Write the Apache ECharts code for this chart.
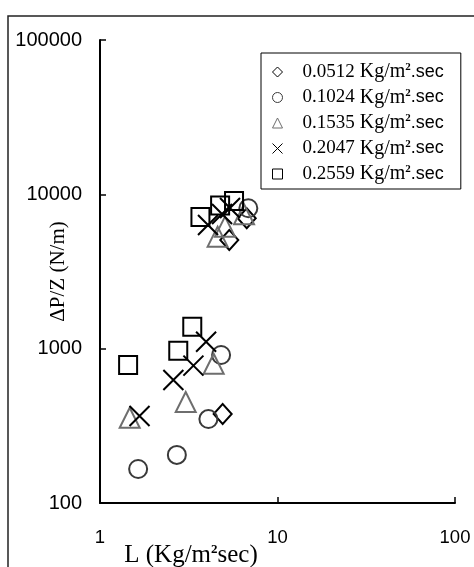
<!DOCTYPE html>
<html>
<head>
<meta charset="utf-8">
<script src="https://cdn.jsdelivr.net/npm/echarts@6/dist/echarts.min.js"></script>
<style>
  html, body { margin: 0; padding: 0; background: #fff; }
  #chart { width: 474px; height: 567px; }
</style>
</head>
<body>
<div id="chart"></div>
<script>
// Pressure drop per unit height against liquid mass velocity, one series per gas rate
const gasRates = ['0.0512', '0.1024', '0.1535', '0.2047', '0.2559'];

// [L (kg/m²·s), ΔP/Z (N/m)]
const points0512 = [[4.91, 377], [5.35, 5064], [6.71, 7000]];
const points1024 = [[1.64, 166], [2.71, 205], [4.08, 350], [4.81, 910], [6.85, 8128]];
const points1535 = [[1.47, 357], [3.04, 451], [4.37, 799], [4.60, 5319], [5.06, 6176], [6.48, 7430]];
const points2047 = [[1.67, 366], [2.59, 627], [3.36, 776], [3.96, 1110], [4.06, 6334], [4.87, 7464], [5.40, 8165]];
const points2559 = [[1.44, 784], [2.76, 970], [3.31, 1389], [3.68, 7138], [4.75, 8472], [5.69, 9063]];

const xTicks = [1, 10, 100];
const yTicks = [100, 1000, 10000, 100000];

const seriesData = [points0512, points1024, points1535, points2047, points2559];

const crossPath = 'path://M0,0L10,10M0,10L10,0';
const markerStyles = [
  { symbol: 'diamond', size: [18, 20], color: '#000000' },
  { symbol: 'circle', size: 18, color: '#3a3a3a' },
  { symbol: 'triangle', size: 20, color: '#6e6e6e' },
  { symbol: crossPath, size: 20, color: '#000000' },
  { symbol: 'rect', size: 18, color: '#000000' }
];

const serif = '"Times New Roman", "Liberation Serif", "DejaVu Serif", serif';
const sans = 'Arial, "Liberation Sans", sans-serif';

const chart = echarts.init(document.getElementById('chart'), null, { renderer: 'canvas' });

chart.setOption({
  animation: false,
  backgroundColor: '#ffffff',
  grid: { left: 100, top: 40, right: 19, bottom: 64, containLabel: false, outerBoundsMode: 'none' },
  graphic: [{
    type: 'rect',
    silent: true,
    shape: { x: 8, y: 16, width: 520, height: 620 },
    style: { fill: 'none', stroke: '#222', lineWidth: 1.5 }
  }],
  legend: {
    orient: 'vertical',
    left: 261,
    top: 53,
    padding: [9, 4, 5, 11],
    itemGap: 5.5,
    itemWidth: 10,
    itemHeight: 10,
    align: 'left',
    selectedMode: false,
    backgroundColor: '#fff',
    borderColor: '#000',
    borderWidth: 1,
    itemStyle: { borderWidth: 1 },
    data: gasRates,
    formatter: name => `{n|${name}}{u| Kg/m}{s|2}{e|.sec}`,
    textStyle: {
      color: '#000',
      fontFamily: serif,
      fontSize: 20,
      rich: {
        n: { fontFamily: serif, fontSize: 19, lineHeight: 20, padding: [0, 0, 0, 15], color: '#000' },
        u: { fontFamily: serif, fontSize: 20, lineHeight: 20, color: '#000' },
        s: { fontFamily: serif, fontSize: 11, fontWeight: 'bold', lineHeight: 11, verticalAlign: 'top', color: '#000' },
        e: { fontFamily: sans, fontSize: 18, lineHeight: 20, width: 46, color: '#000' }
      }
    }
  },
  xAxis: {
    type: 'log',
    logBase: 10,
    min: xTicks[0],
    max: xTicks[xTicks.length - 1],
    axisLine: { show: true, onZero: false, lineStyle: { color: '#000', width: 2 } },
    axisTick: { show: true, inside: true, length: 6, lineStyle: { color: '#000', width: 1.5 } },
    minorTick: { show: false },
    splitLine: { show: false },
    axisLabel: {
      color: '#000', fontFamily: sans, fontSize: 18.5, margin: 25,
      formatter: v => String(Math.round(v))
    },
    name: '{a|L (Kg/m}{s|2}{a|sec)}',
    nameLocation: 'middle',
    nameGap: 40,
    nameMoveOverlap: false,
    nameTextStyle: {
      color: '#000',
      padding: [0, 173, 0, 0],
      rich: {
        a: { fontFamily: serif, fontSize: 25, lineHeight: 24, color: '#000' },
        s: { fontFamily: serif, fontSize: 13, fontWeight: 'bold', lineHeight: 13, verticalAlign: 'top', color: '#000' }
      }
    }
  },
  yAxis: {
    type: 'log',
    logBase: 10,
    min: yTicks[0],
    max: yTicks[yTicks.length - 1],
    axisLine: { show: true, onZero: false, lineStyle: { color: '#000', width: 2 } },
    axisTick: { show: true, inside: true, length: 6, lineStyle: { color: '#000', width: 1.5 } },
    minorTick: { show: false },
    splitLine: { show: false },
    axisLabel: {
      color: '#000', fontFamily: sans, fontSize: 20, margin: 18,
      formatter: v => String(Math.round(v))
    },
    name: 'ΔP/Z (N/m)',
    nameLocation: 'middle',
    nameGap: 31,
    nameMoveOverlap: false,
    nameTextStyle: { color: '#000', fontFamily: serif, fontSize: 21 }
  },
  series: seriesData.map((data, i) => ({
    type: 'scatter',
    name: gasRates[i],
    data: data,
    symbol: markerStyles[i].symbol,
    symbolSize: markerStyles[i].size,
    silent: true,
    itemStyle: {
      color: 'transparent',
      borderColor: markerStyles[i].color,
      borderWidth: 2,
      opacity: 1
    },
    emphasis: { disabled: true }
  }))
});
</script>
</body>
</html>
